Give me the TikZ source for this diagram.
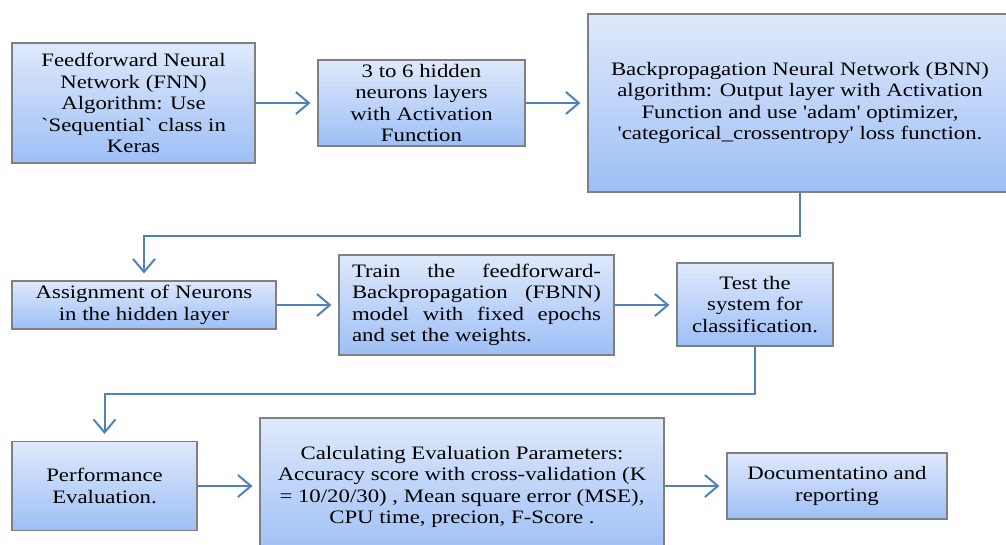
\documentclass[tikz,border=0pt]{standalone}
\usepackage{fontspec}
\newfontfamily\boxfont{Liberation Serif}[FakeStretch=1.2]
\usetikzlibrary{arrows.meta}
\definecolor{arr}{HTML}{4F81BD}
\definecolor{boxtop}{HTML}{DFE9FB}
\definecolor{boxbot}{HTML}{9DBFF6}
\definecolor{boxedge}{HTML}{808080}
\begin{document}
\begin{tikzpicture}[x=1pt,y=-1pt,
  box/.style={draw=boxedge, line width=1.1pt, top color=boxtop, bottom color=boxbot,
    inner sep=0pt, align=center, font=\boxfont\fontsize{19}{21.5}\selectfont},
  flow/.style={draw=arr, line width=2pt,
    -{Straight Barb[length=13pt,width=22pt,line width=2pt]}, shorten >=7pt},
]
\useasboundingbox (0,0) rectangle (1006,545);
\node[box, minimum width=243pt, minimum height=120pt] (b1) at (133.5,103)
  {Feedforward Neural\\Network (FNN)\\Algorithm: Use\\`Sequential` class in\\Keras};
\node[box, minimum width=207pt, minimum height=86pt] (b2) at (421.5,103)
  {3 to 6 hidden\\neurons layers\\with Activation\\Function};
\node[box, minimum width=424pt, minimum height=178pt] (b3) at (800,103)
  {Backpropagation Neural Network (BNN)\\algorithm: Output layer with Activation\\Function and use 'adam' optimizer,\\'categorical\_crossentropy' loss function.};
\node[box, minimum width=264pt, minimum height=48pt] (b4) at (144,305)
  {Assignment of Neurons\\in the hidden layer};
\node[box, minimum width=275pt, minimum height=100pt, text width=249pt, align=justify] (b5) at (476.5,305)
  {Train the feedforward-\linebreak Backpropagation (FBNN)\linebreak model with fixed epochs\linebreak and set the weights.};
\node[box, minimum width=156pt, minimum height=83pt] (b6) at (755,304.5)
  {Test the\\system for\\classification.};
\node[box, minimum width=185pt, minimum height=89pt] (b7) at (104.5,486)
  {Performance\\Evaluation.};
\node[box, minimum width=404pt, minimum height=138pt] (b8) at (462,487)
  {Calculating Evaluation Parameters:\\Accuracy score with cross-validation (K\\= 10/20/30) , Mean square error (MSE),\\CPU time, precion, F-Score .};
\node[box, minimum width=220pt, minimum height=66pt] (b9) at (837,486)
  {Documentatino and\\reporting};
\coordinate (c1) at (0,236);
\coordinate (c2) at (0,394);
\draw[flow] (b1.east) -- (b2.west);
\draw[flow] (b2.east) -- (b3.west);
\draw[flow] (b3.south) -- (b3.south |- c1) -| (b4.north);
\draw[flow] (b4.east) -- (b4.east -| b5.west);
\draw[flow] (b5.east) -- (b5.east -| b6.west);
\draw[flow] (b6.south) -- (b6.south |- c2) -| (b7.north);
\draw[flow] (b7.east) -- (b7.east -| b8.west);
\draw[flow] (b8.east |- b9.west) -- (b9.west);
\end{tikzpicture}
\end{document}
